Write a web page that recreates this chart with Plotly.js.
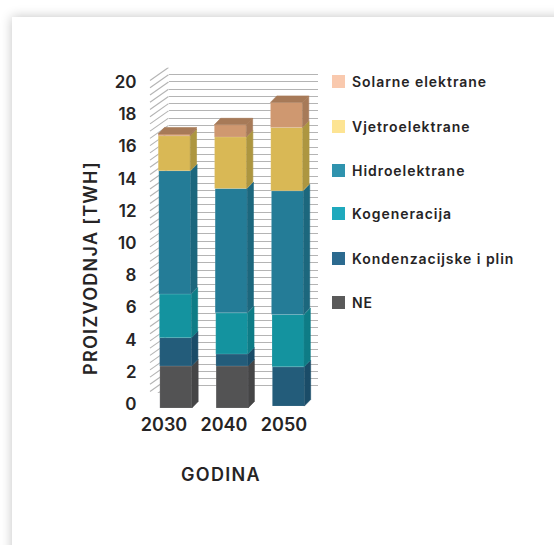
<!DOCTYPE html>
<html>
<head>
<meta charset="utf-8">
<script src="https://cdn.plot.ly/plotly-3.0.1.min.js"></script>
<style>
html,body{margin:0;padding:0;width:554px;height:545px;overflow:hidden;background:#fff}
#card{position:absolute;left:12px;top:17px;width:800px;height:800px;background:#fff;box-shadow:0 0 11px rgba(0,0,0,.24)}
#plot{position:absolute;left:0;top:0;width:554px;height:545px}
#plot .annotation-text{letter-spacing:.95px}
#plot .xtick text,#plot .ytick text{letter-spacing:.7px}
#plot .g-x3title text,#plot .g-y3title text{letter-spacing:1.3px}
</style>
</head>
<body>
<div id="card"></div>
<div id="plot"></div>
<script>
// ---- data ----
const years = [2030, 2040, 2050];
const yTicks = [0, 2, 4, 6, 8, 10, 12, 14, 16, 18, 20];
const seriesNames = ['NE', 'Kondenzacijske i plin', 'Kogeneracija', 'Hidroelektrane', 'Vjetroelektrane', 'Solarne elektrane'];
const ne     = [2.61, 2.61, 0];
const kond   = [1.76, 0.75, 2.44];
const kog    = [2.71, 2.55, 3.25];
const hidro  = [7.66, 7.72, 7.68];
const vjetro = [2.17, 3.21, 3.94];
const solar  = [0.11, 0.75, 1.55];
const startLift = [0, 0, 0.12];
const frontColors  = ['#535354', '#235c7a', '#14939f', '#247c97', '#d9b855', '#cf9870'];
const sideColors   = ['#454546', '#1a4c68', '#0e7c86', '#1c677d', '#ad9640', '#a77a58'];
const legendColors = ['#5a5a5a', '#2c6a8f', '#1fa9bd', '#2f93ae', '#fde493', '#f9c9ae'];

// ---- page geometry helpers ----
const W = 554, H = 545;
const xp = px => px / W;
const yp = py => 1 - py / H;
const values = [ne, kond, kog, hidro, vjetro, solar];
const FONT = 'Inter, "Open Sans", sans-serif';
const INK = '#262425';

// bar axes: year 2030 at px 176, 5.625 px per year; 0 at px 408, 16.1 px per unit
const pxPerYear = 5.625, pxPerUnit = 16.1;
const barW = 32 / pxPerYear, depthX = 6.3 / pxPerYear, depthY = 6.5 / pxPerUnit;
const tilt = (2 / 18) / pxPerYear; // the picture leans slightly to the left with height

const traces = [];
const shapes = [];

// back wall (first subplot, so that everything else paints over it)
traces.push({type: 'scatter', mode: 'none', x: years, y: yTicks.slice(0, 3), xaxis: 'x', yaxis: 'y', hoverinfo: 'skip', showlegend: false});

// stacked front faces + side faces
const running = startLift.slice();
values.forEach((vals, s) => {
  const bases = running.slice();
  const xs = years.map((yr, i) => yr - tilt * (bases[i] + vals[i] / 2));
  traces.push({
    type: 'bar', name: seriesNames[s], x: xs, y: vals, base: bases, width: barW,
    xaxis: 'x2', yaxis: 'y2', showlegend: false,
    marker: {color: frontColors[s], line: {color: 'rgba(255,255,255,0.12)', width: 1}}
  });
  vals.forEach((v, i) => {
    if (!v) return;
    const r = xs[i] + barW / 2, b = bases[i], t = b + v;
    shapes.push({type: 'path', layer: 'above', xref: 'x2', yref: 'y2', fillcolor: sideColors[s], line: {color: sideColors[s], width: 0.6},
      path: `M${r},${b} L${r + depthX},${b + depthY} L${r + depthX},${t + depthY} L${r},${t} Z`});
    if (s === values.length - 1) {
      const l = xs[i] - barW / 2;
      shapes.push({type: 'path', layer: 'above', xref: 'x2', yref: 'y2', fillcolor: sideColors[s], line: {color: sideColors[s], width: 0.6},
        path: `M${l},${t} L${l + depthX},${t + depthY} L${r + depthX},${t + depthY} L${r},${t} Z`});
    }
    running[i] = t;
  });
});

// axis-label subplot
traces.push({type: 'scatter', mode: 'none', x: years, y: yTicks.slice(0, 3), xaxis: 'x3', yaxis: 'y3', hoverinfo: 'skip', showlegend: false});

// side wall diagonals
const gridStep = 20 / 45;
for (let k = 0; k <= 45; k++) {
  const v = k * gridStep;
  shapes.push({type: 'line', layer: 'below', xref: 'paper', yref: 'y', x0: xp(150), x1: xp(168.5), y0: v - 0.8, y1: v, line: {color: '#b4b4b4', width: 1.1}});
}

// legend
const legendY = [302.5, 258.5, 213.5, 170.5, 126.5, 81.5];
const annotations = [];
seriesNames.forEach((name, s) => {
  shapes.push({type: 'rect', layer: 'above', xref: 'paper', yref: 'paper', x0: xp(332), x1: xp(345), y0: yp(legendY[s] - 6.5), y1: yp(legendY[s] + 6.5), fillcolor: legendColors[s], line: {width: 0}});
  annotations.push({xref: 'paper', yref: 'paper', x: xp(350), y: yp(legendY[s]), xanchor: 'left', yanchor: 'middle', showarrow: false, align: 'left', text: name,
    font: {family: FONT, size: 14, weight: 600, color: INK}});
});

const off = {showgrid: false, zeroline: false, showline: false, showticklabels: false, ticks: ''};
const layout = {
  width: W, height: H, margin: {l: 0, r: 0, t: 0, b: 0, pad: 0},
  paper_bgcolor: 'rgba(0,0,0,0)', plot_bgcolor: 'rgba(0,0,0,0)',
  barmode: 'overlay', showlegend: false, hovermode: false,
  xaxis: Object.assign({}, off, {domain: [xp(168.5), xp(318)], range: [2020, 2060], anchor: 'y'}),
  yaxis: {domain: [yp(393), yp(67.5)], range: [0, 20], anchor: 'x', tick0: 0, dtick: gridStep, showgrid: true, gridcolor: '#b4b4b4', gridwidth: 1.1, zeroline: false, showline: false, showticklabels: false, ticks: ''},
  xaxis2: Object.assign({}, off, {domain: [xp(140), xp(330)], range: [2030 + (140 - 176) / pxPerYear, 2030 + (330 - 176) / pxPerYear], anchor: 'y2'}),
  yaxis2: Object.assign({}, off, {domain: [yp(412), yp(60)], range: [(408 - 412) / pxPerUnit, (408 - 60) / pxPerUnit], anchor: 'x2'}),
  xaxis3: {domain: [xp(130), xp(312)], range: [2030 + (130 - 164) / 6, 2030 + (312 - 164) / 6], anchor: 'free', position: yp(412), overlaying: false,
    tickvals: years, ticktext: years.map(String), ticks: '', showgrid: false, zeroline: false, showline: false,
    tickfont: {family: FONT, size: 18, weight: 600, color: INK},
    title: {text: 'GODINA', standoff: 34, font: {family: FONT, size: 18, weight: 600, color: INK}}},
  yaxis3: {domain: [yp(476), yp(60)], range: [(404 - 476) / pxPerUnit, (404 - 60) / pxPerUnit], anchor: 'free', position: xp(136.5),
    tickvals: yTicks, ticktext: yTicks.map(String), ticks: '', showgrid: false, zeroline: false, showline: false,
    tickfont: {family: FONT, size: 17, weight: 600, color: INK},
    title: {text: 'PROIZVODNJA [TWH]', standoff: 11, font: {family: FONT, size: 18, weight: 600, color: INK}}},
  shapes: shapes, annotations: annotations
};
Plotly.newPlot('plot', traces, layout, {displayModeBar: false, responsive: false});
</script>
</body>
</html>
